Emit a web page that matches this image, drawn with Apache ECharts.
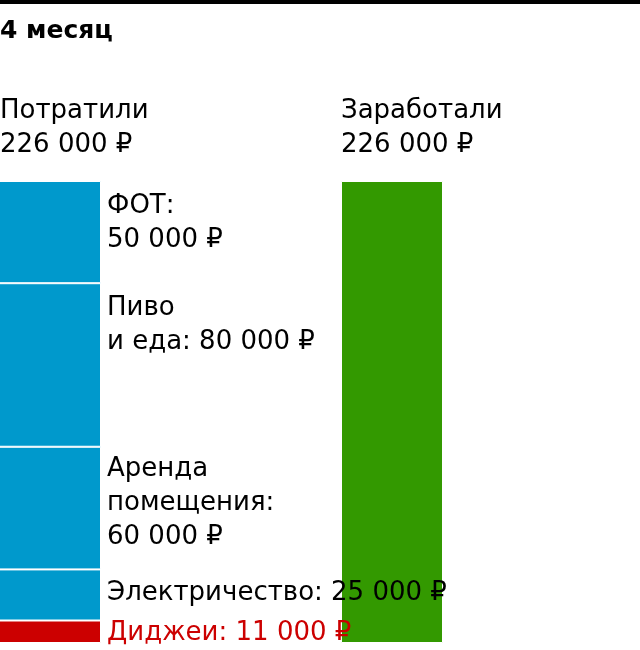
<!DOCTYPE html>
<html><head><meta charset="utf-8">
<script src="https://cdn.jsdelivr.net/npm/echarts@6/dist/echarts.min.js"></script>
<style>html,body{margin:0;padding:0;background:#fff}#c{width:640px;height:650px}</style>
</head><body><div id="c"></div>
<script>
var titleText = '4 месяц';
var columns = ['Потратили', 'Заработали'];
var totals = ['226 000 ₽', '226 000 ₽'];
// stacked from bottom to top
var costNames = ['Диджеи', 'Электричество', 'Аренда помещения', 'Пиво и еда', 'ФОТ'];
var costValues = [11000, 25000, 60000, 80000, 50000];
var costLabels = ['Диджеи: 11 000 ₽', 'Электричество: 25 000 ₽', 'Аренда\nпомещения:\n60 000 ₽', 'Пиво\nи еда: 80 000 ₽', 'ФОТ:\n50 000 ₽'];
var costColors = ['#cc0000', '#0099cc', '#0099cc', '#0099cc', '#0099cc'];
var labelColors = ['#cc0000', '#000', '#000', '#000', '#000'];
var labelOffsets = [-4, 7, 5, 8, 8];
var incomeValue = 226000;

var FONT = 'DejaVu Sans';
var SIZE = 26;
var series = costValues.map(function (v, i) {
  return {
    type: 'bar', stack: 'cost', barWidth: 102, clip: false, name: costNames[i],
    data: [v, '-'], z: 3,
    itemStyle: { color: costColors[i], borderColor: '#fff', borderWidth: 1 },
    label: { show: true, position: [108, labelOffsets[i]], formatter: costLabels[i],
      color: labelColors[i], fontFamily: FONT, fontSize: SIZE, lineHeight: 34,
      verticalAlign: 'top', align: 'left' }
  };
});
series.push({
  type: 'bar', stack: 'income', barWidth: 102, clip: false, barGap: '-100%', name: columns[1],
  data: ['-', incomeValue], z: 1,
  itemStyle: { color: '#339900', borderColor: '#fff', borderWidth: 1 }
});

var chart = echarts.init(document.getElementById('c'));
chart.setOption({
  animation: false,
  title: [
    { text: titleText, left: 0, top: 19, padding: 0, textStyle: { fontFamily: FONT, fontSize: 25, fontWeight: 'bold', color: '#000' } },
    { text: columns[0] + '\n' + totals[0], left: 0, top: 94, padding: 0, textStyle: { fontFamily: FONT, fontSize: SIZE, fontWeight: 'normal', color: '#000', lineHeight: 34 } },
    { text: columns[1] + '\n' + totals[1], left: 341, top: 94, padding: 0, textStyle: { fontFamily: FONT, fontSize: SIZE, fontWeight: 'normal', color: '#000', lineHeight: 34 } }
  ],
  graphic: [{ type: 'rect', shape: { x: 0, y: 0, width: 640, height: 4 }, style: { fill: '#000' } }],
  grid: { left: 50, right: 248, top: 181, bottom: 7 },
  xAxis: { type: 'category', data: columns, boundaryGap: false, show: false },
  yAxis: { type: 'value', min: 0, max: 226000, show: false },
  series: series
});
</script></body></html>
